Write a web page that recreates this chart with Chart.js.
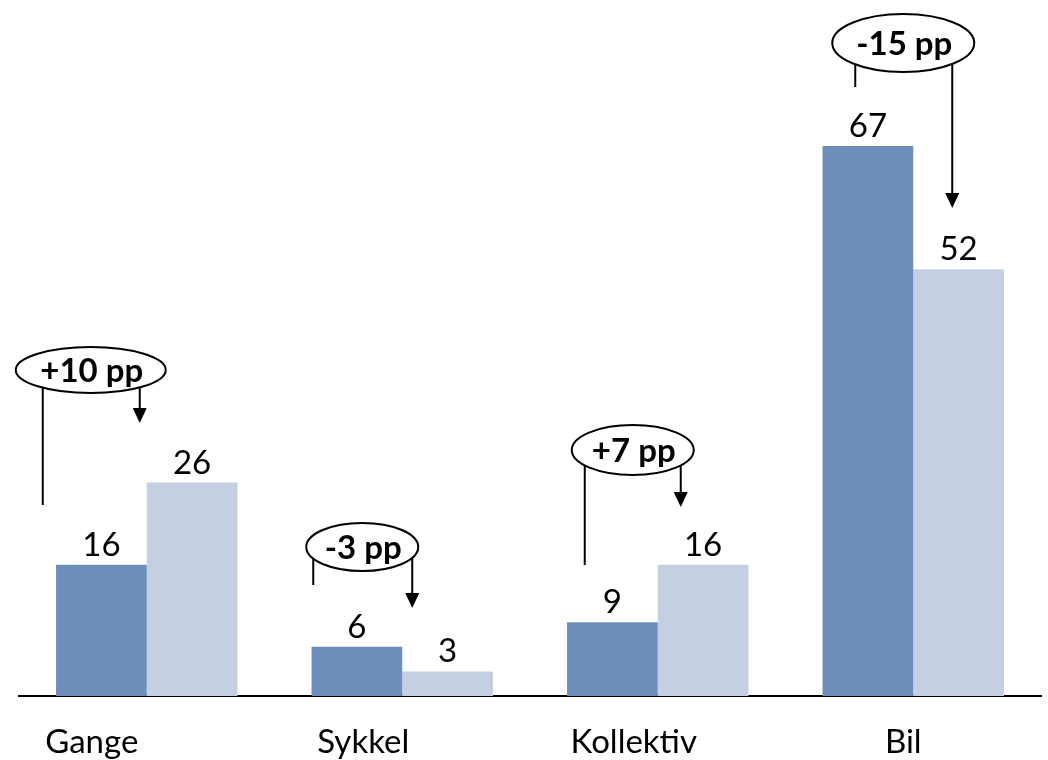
<!DOCTYPE html>
<html>
<head>
<meta charset="utf-8">
<script src="https://cdn.jsdelivr.net/npm/chart.js@4/dist/chart.umd.min.js"></script>
<style>
  html, body { margin: 0; padding: 0; background: #fff; }
  #wrap { width: 1048px; height: 760px; position: relative; }
</style>
</head>
<body>
<div id="wrap"><canvas id="c" width="1048" height="760"></canvas></div>
<script>
const categories = ['Gange', 'Sykkel', 'Kollektiv', 'Bil'];
const seriesBefore = [16, 6, 9, 67];
const seriesAfter = [26, 3, 16, 52];
const changeLabels = ['+10 pp', '-3 pp', '+7 pp', '-15 pp'];

// styling: annotation geometry (pixel offsets from category centre / absolute y)
const annot = [
  { dx: -56, cy: 370, rx: 75, ry: 23, lx: -104, ly: 505, rxl: -7, tip: 423 },
  { dx: -40, cy: 547, rx: 56, ry: 24, lx: -89, ly: 585, rxl: 10, tip: 608 },
  { dx: -25, cy: 450, rx: 61, ry: 25, lx: -73, ly: 565, rxl: 23, tip: 507 },
  { dx: -10, cy: 43, rx: 71, ry: 29, lx: -58, ly: 87, rxl: 39, tip: 208 }
];
const labelOffsets = [-55, -39, -24, -10];
const FONT = 'Lato, "Open Sans", sans-serif';

const overlay = {
  id: 'overlay',
  afterDatasetsDraw(chart) {
    const ctx = chart.ctx;
    const xs = chart.scales.x;
    ctx.save();
    // value labels
    ctx.fillStyle = '#000';
    ctx.font = '33px ' + FONT;
    ctx.textAlign = 'center';
    ctx.textBaseline = 'alphabetic';
    chart.data.datasets.forEach((ds, di) => {
      const meta = chart.getDatasetMeta(di);
      meta.data.forEach((bar, i) => {
        ctx.fillText(String(ds.data[i]), bar.x, bar.y - 9);
      });
    });
    // category labels
    ctx.font = '33px ' + FONT;
    categories.forEach((c, i) => {
      ctx.fillText(c, xs.getPixelForValue(i) + labelOffsets[i], 753);
    });
    // annotations
    ctx.strokeStyle = '#000';
    ctx.lineWidth = 2;
    annot.forEach((a, i) => {
      const cx = xs.getPixelForValue(i) + a.dx;
      ctx.beginPath();
      ctx.ellipse(cx, a.cy, a.rx, a.ry, 0, 0, Math.PI * 2);
      ctx.fillStyle = '#fff';
      ctx.fill();
      ctx.stroke();
      ctx.fillStyle = '#000';
      ctx.font = 'bold 33px ' + FONT;
      ctx.textBaseline = 'middle';
      ctx.fillText(changeLabels[i], cx + 1, a.cy + 1);
      const yOn = (x) => a.cy + a.ry * Math.sqrt(Math.max(0, 1 - Math.pow((x - cx) / a.rx, 2)));
      const lx = xs.getPixelForValue(i) + a.lx;
      ctx.beginPath();
      ctx.moveTo(lx, yOn(lx));
      ctx.lineTo(lx, a.ly);
      ctx.stroke();
      const rx = xs.getPixelForValue(i) + a.rxl;
      ctx.beginPath();
      ctx.moveTo(rx, yOn(rx));
      ctx.lineTo(rx, a.tip - 14);
      ctx.stroke();
      ctx.beginPath();
      ctx.moveTo(rx - 7, a.tip - 15);
      ctx.lineTo(rx + 7, a.tip - 15);
      ctx.lineTo(rx, a.tip);
      ctx.closePath();
      ctx.fill();
    });
    ctx.restore();
  }
};

new Chart(document.getElementById('c'), {
  type: 'bar',
  data: {
    labels: categories,
    datasets: [
      { data: seriesBefore, backgroundColor: '#6D8EBA', categoryPercentage: 0.71, barPercentage: 1.0 },
      { data: seriesAfter, backgroundColor: '#C4CFE1', categoryPercentage: 0.71, barPercentage: 1.0 }
    ]
  },
  options: {
    responsive: false,
    animation: false,
    layout: { padding: { left: 19, right: 7, top: 0, bottom: 64 } },
    plugins: { legend: { display: false }, tooltip: { enabled: false } },
    scales: {
      x: {
        display: true,
        ticks: { display: false },
        grid: { display: false, drawTicks: false },
        border: { display: true, color: '#000', width: 2 }
      },
      y: {
        display: false,
        min: 0,
        max: 84.8
      }
    }
  },
  plugins: [overlay]
});
</script>
</body>
</html>
